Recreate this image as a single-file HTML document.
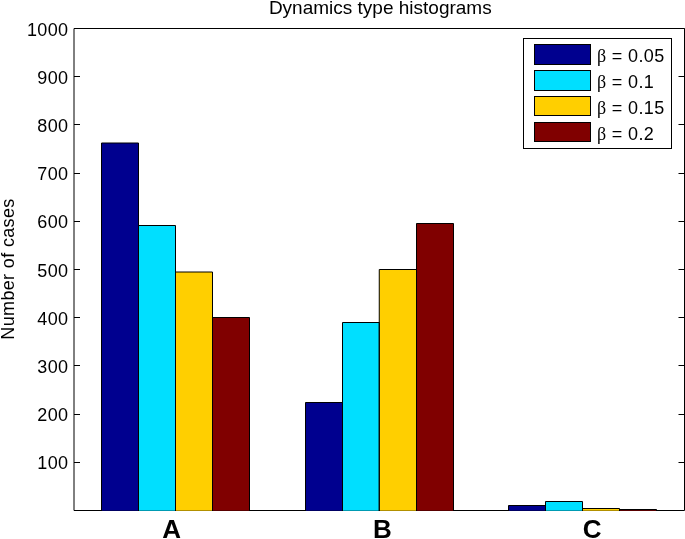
<!DOCTYPE html>
<html><head><meta charset="utf-8">
<style>
html,body{margin:0;padding:0;background:#fff;width:685px;height:539px;overflow:hidden}
svg{display:block;will-change:transform}
text{font-family:"Liberation Sans",sans-serif;fill:#000}
</style></head>
<body>
<svg width="685" height="539" viewBox="0 0 685 539">
<rect x="0" y="0" width="685" height="539" fill="#fff"/>
<text x="380.3" y="13.8" font-size="19" text-anchor="middle">Dynamics type histograms</text>
<text transform="translate(14,269) rotate(-90)" font-size="18" letter-spacing="0.35" text-anchor="middle">Number of cases</text>
<g stroke="#000" stroke-width="1" fill="none">
<path d="M74 462.5 h6 M684.5 462.5 h-6"/>
<path d="M74 414.5 h6 M684.5 414.5 h-6"/>
<path d="M74 365.5 h6 M684.5 365.5 h-6"/>
<path d="M74 317.5 h6 M684.5 317.5 h-6"/>
<path d="M74 269.5 h6 M684.5 269.5 h-6"/>
<path d="M74 221.5 h6 M684.5 221.5 h-6"/>
<path d="M74 173.5 h6 M684.5 173.5 h-6"/>
<path d="M74 124.5 h6 M684.5 124.5 h-6"/>
<path d="M74 76.5 h6 M684.5 76.5 h-6"/>
<path d="M74 28.5 h6 M684.5 28.5 h-6"/>
<path d="M74 28.5 H684.5 V510.5 H74 Z"/>
</g>
<rect x="101.5" y="143" width="37.00" height="368.00" fill="#00008f"/>
<rect x="138.5" y="225.5" width="37.00" height="285.50" fill="#00dfff"/>
<rect x="175.5" y="272" width="37.00" height="239.00" fill="#ffcf00"/>
<rect x="212.5" y="317.5" width="37.00" height="193.50" fill="#800000"/>
<path d="M101.5 511 V143 H138.5 V511 M138.5 511 V225.5 H175.5 V511 M175.5 511 V272 H212.5 V511 M212.5 511 V317.5 H249.5 V511 " stroke="#000" stroke-width="1" fill="none"/>
<path d="M101.5 510.5 H249.5" stroke="#000" stroke-opacity="0.3" stroke-width="1"/>
<rect x="305.5" y="402.5" width="37.00" height="108.50" fill="#00008f"/>
<rect x="342.5" y="322.5" width="36.75" height="188.50" fill="#00dfff"/>
<rect x="379.25" y="269.5" width="37.25" height="241.50" fill="#ffcf00"/>
<rect x="416.5" y="223.5" width="37.00" height="287.50" fill="#800000"/>
<path d="M305.5 511 V402.5 H342.5 V511 M342.5 511 V322.5 H379.25 V511 M379.25 511 V269.5 H416.5 V511 M416.5 511 V223.5 H453.5 V511 " stroke="#000" stroke-width="1" fill="none"/>
<path d="M305.5 510.5 H453.5" stroke="#000" stroke-opacity="0.3" stroke-width="1"/>
<rect x="508.5" y="505.5" width="37.00" height="5.50" fill="#00008f"/>
<rect x="545.5" y="501.5" width="37.00" height="9.50" fill="#00dfff"/>
<rect x="582.5" y="508.5" width="37.00" height="2.50" fill="#ffcf00"/>
<rect x="619.5" y="509.5" width="37.00" height="1.50" fill="#800000"/>
<path d="M508.5 511 V505.5 H545.5 V511 M545.5 511 V501.5 H582.5 V511 M582.5 511 V508.5 H619.5 V511 M619.5 511 V509.5 H656.5 V511 " stroke="#000" stroke-width="1" fill="none"/>
<path d="M508.5 510.5 H656.5" stroke="#000" stroke-opacity="0.3" stroke-width="1"/>
<g font-size="18" letter-spacing="0.3" text-anchor="end">
<text x="68.3" y="469.4">100</text>
<text x="68.3" y="421.2">200</text>
<text x="68.3" y="373.0">300</text>
<text x="68.3" y="324.8">400</text>
<text x="68.3" y="276.6">500</text>
<text x="68.3" y="228.4">600</text>
<text x="68.3" y="180.2">700</text>
<text x="68.3" y="132.0">800</text>
<text x="68.3" y="83.8">900</text>
<text x="68.3" y="35.6">1000</text>
</g>
<g font-size="26" font-weight="bold" text-anchor="middle">
<text x="171.7" y="538.3">A</text>
<text x="382.3" y="538.3">B</text>
<text x="592.2" y="538.3">C</text>
</g>
<rect x="523.5" y="38.5" width="148" height="110" fill="#fff" stroke="#000" stroke-width="1"/>
<g stroke="#000" stroke-width="1">
<rect x="534.5" y="44.5" width="56" height="20" fill="#00008f"/>
<rect x="534.5" y="70.5" width="56" height="20" fill="#00dfff"/>
<rect x="534.5" y="96.5" width="56" height="19" fill="#ffcf00"/>
<rect x="534.5" y="122.5" width="56" height="19" fill="#800000"/>
</g>
<g font-size="18" letter-spacing="0.35">
<text x="597" y="61.6"><tspan font-family="Liberation Serif">β</tspan> = 0.05</text>
<text x="597" y="87.6"><tspan font-family="Liberation Serif">β</tspan> = 0.1</text>
<text x="597" y="113.6"><tspan font-family="Liberation Serif">β</tspan> = 0.15</text>
<text x="597" y="139.6"><tspan font-family="Liberation Serif">β</tspan> = 0.2</text>
</g>
</svg>
</body></html>
